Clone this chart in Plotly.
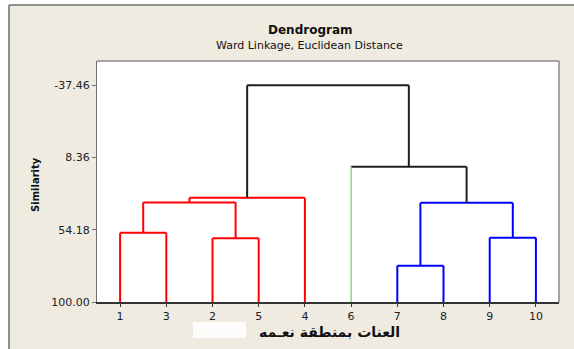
import plotly.graph_objects as go

# ---- data ----
leaf_order = [1, 3, 2, 5, 4, 6, 7, 8, 9, 10]
leaf_labels = ["1", "3", "2", "5", "4", "6", "7", "8", "9", "10"]
RED, BLUE, GREEN, BLACK = "#FF0000", "#0000FF", "#80CF80", "#1E1E1E"
leaf_colors = [RED, RED, RED, RED, RED, GREEN, BLUE, BLUE, BLUE, BLUE]

merge_left = ["L7", "L2", "L9", "L1", "M0", "M3", "M5", "L6", "M6"]
merge_right = ["L8", "L5", "L10", "L3", "M2", "M1", "L4", "M4", "M7"]
merge_sim = [77.0, 59.6, 59.2, 56.1, 37.1, 36.8, 33.9, 14.2, -37.46]
merge_color = [BLUE, RED, BLUE, RED, BLUE, RED, RED, BLACK, BLACK]

y_tickvals = [-37.46, 8.36, 54.18, 100.00]
y_ticktext = ["-37.46", "8.36", "54.18", "100.00"]

title = "Dendrogram"
subtitle = "Ward Linkage, Euclidean Distance"
x_title = "العنات بمنطقة نعـمه"
y_title = "Similarity"

# ---- build dendrogram geometry from data ----
pos, height, color_of = {}, {}, {}
for i, (leaf, col) in enumerate(zip(leaf_order, leaf_colors)):
    key = "L%d" % leaf
    pos[key] = i + 1
    height[key] = 100.0
    color_of[key] = col

segments = {}  # (color, width) -> (xs, ys)

def add_seg(col, w, xs, ys):
    bx, by = segments.setdefault((col, w), ([], []))
    bx.extend(xs + [None])
    by.extend(ys + [None])

for k, (a, b, h, c) in enumerate(zip(merge_left, merge_right, merge_sim, merge_color)):
    xa, xb = pos[a], pos[b]
    ya, yb = height[a], height[b]
    # horizontal bar
    add_seg(c, 2, [xa, xb], [h, h])
    # legs: a leaf keeps its own cluster colour, inner nodes take the link colour
    for child, xc, yc in ((a, xa, ya), (b, xb, yb)):
        lc = color_of[child] if child.startswith("L") else c
        w = 1.4 if lc == GREEN else 2
        add_seg(lc, w, [xc, xc], [yc, h])
    node = "M%d" % k
    pos[node] = (xa + xb) / 2
    height[node] = h

fig = go.Figure()
for (col, w), (xs, ys) in segments.items():
    fig.add_trace(go.Scatter(x=xs, y=ys, mode="lines", line=dict(color=col, width=w),
                             hoverinfo="skip", showlegend=False, connectgaps=False))

# ---- layout ----
W, H = 574, 349
L, R, T, B = 97, 15, 61, 47
pw, ph_ = W - L - R, H - T - B

def px(x):
    return (x - L) / pw

def py(y):
    return (H - B - y) / ph_

BG = "#EFEBE1"
shapes = [
    dict(type="rect", xref="paper", yref="paper", x0=px(0), x1=px(9), y0=py(0), y1=py(H),
         fillcolor="white", line=dict(width=0)),
    dict(type="rect", xref="paper", yref="paper", x0=px(0), x1=px(W), y0=py(0), y1=py(5),
         fillcolor="white", line=dict(width=0)),
    dict(type="line", xref="paper", yref="paper", x0=px(9), x1=px(W), y0=py(5), y1=py(5),
         line=dict(color="#6E6E6E", width=1.5)),
    dict(type="line", xref="paper", yref="paper", x0=px(9), x1=px(9), y0=py(5), y1=py(H),
         line=dict(color="#6E6E6E", width=1.5)),
    dict(type="line", xref="paper", yref="paper", x0=0, x1=1, y0=1, y1=1,
         line=dict(color="#8A8A8A", width=1.5)),
    dict(type="line", xref="paper", yref="paper", x0=1, x1=1, y0=0, y1=1,
         line=dict(color="#8A8A8A", width=1.5)),
    dict(type="rect", xref="paper", yref="paper", x0=px(193), x1=px(246), y0=py(338), y1=py(322),
         fillcolor="rgba(255,255,255,0.85)", line=dict(width=0)),
]

annotations = [
    dict(text="<b>%s</b>" % title, xref="paper", yref="paper", x=px(310), y=py(30),
         showarrow=False, font=dict(family="DejaVu Sans", size=12, color="#111"),
         xanchor="center", yanchor="middle"),
    dict(text=subtitle, xref="paper", yref="paper", x=px(309), y=py(45),
         showarrow=False, font=dict(family="DejaVu Sans", size=11, color="#111"),
         xanchor="center", yanchor="middle"),
    dict(text="<b>%s</b>" % y_title, xref="paper", yref="paper", x=px(35), y=py(185),
         showarrow=False, textangle=-90, font=dict(family="DejaVu Sans", size=10, color="#111"),
         xanchor="center", yanchor="middle"),
    dict(text="<b>%s</b>" % x_title, xref="paper", yref="paper", x=px(329), y=py(332),
         showarrow=False, font=dict(family="DejaVu Sans", size=14, color="#111"),
         xanchor="center", yanchor="middle"),
]

fig.update_layout(
    width=W, height=H, margin=dict(l=L, r=R, t=T, b=B, pad=0),
    paper_bgcolor=BG, plot_bgcolor="white",
    shapes=shapes, annotations=annotations,
    xaxis=dict(range=[0.5, 10.5], tickvals=list(range(1, 11)), ticktext=leaf_labels,
               showgrid=False, zeroline=False, showline=True, linecolor="#333333", linewidth=1.5,
               ticks="outside", ticklen=3, tickcolor="#333333",
               tickfont=dict(family="DejaVu Sans", size=11, color="#222")),
    yaxis=dict(range=[100, -52.9], tickvals=y_tickvals, ticktext=y_ticktext,
               showgrid=False, zeroline=False, showline=True, linecolor="#707070", linewidth=1.2,
               ticks="outside", ticklen=4, tickcolor="#707070",
               tickfont=dict(family="DejaVu Sans", size=11, color="#222")),
)

fig.write_html("out.html", config={"displayModeBar": False},
               post_script="document.body.style.margin='0';document.body.style.padding='0';")
